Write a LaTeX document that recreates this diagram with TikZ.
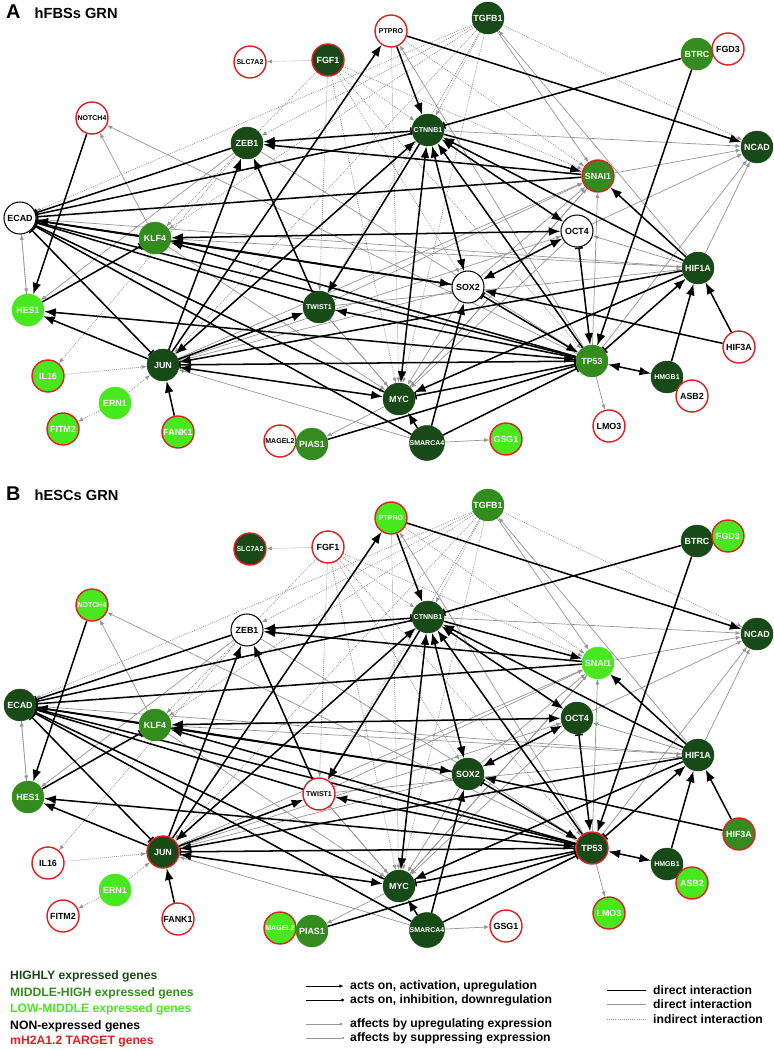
\documentclass[tikz,border=0pt]{standalone}
\usepackage{fontspec}
\setmainfont{Liberation Sans}
\usetikzlibrary{arrows.meta,positioning}
\definecolor{grnhigh}{RGB}{24,74,24}
\definecolor{grnmid}{RGB}{52,140,30}
\definecolor{grnlow}{RGB}{72,232,30}
\definecolor{tgtred}{RGB}{226,30,30}
\definecolor{edgegray}{RGB}{150,150,150}
\pgfdeclarelayer{edgelayer}
\pgfsetlayers{edgelayer,main}

\begin{document}
\begin{tikzpicture}[
  x=0.03cm,y=-0.03cm,
  gene/.style={circle,minimum size=0.96cm,inner sep=0pt,font=\bfseries\fontsize{7.6}{8}\selectfont},
  lbl/.style={},
  lbls/.style={font=\bfseries\fontsize{6}{7}\selectfont},
  hi/.style={gene,fill=grnhigh,draw=grnhigh,text=white},
  hit/.style={hi,draw=tgtred,line width=1.2pt},
  mid/.style={gene,fill=grnmid,draw=grnmid,text=white},
  midt/.style={mid,draw=tgtred,line width=1.2pt},
  low/.style={gene,fill=grnlow,draw=grnlow,text=white},
  lowt/.style={low,draw=tgtred,line width=1.2pt},
  non/.style={gene,fill=white,draw=black,line width=0.9pt,text=black},
  nont/.style={non,draw=tgtred,line width=1.2pt},
  act/.style={draw=black,line width=1.3pt,-{Latex[length=10pt,width=7.5pt]}},
  dbl/.style={draw=black,line width=1.3pt,{Latex[length=10pt,width=7.5pt]}-{Latex[length=10pt,width=7.5pt]}},
  inh/.style={draw=black,line width=1.3pt,-{Bar[width=6.5pt]}},
  barbar/.style={draw=black,line width=1.3pt,{Bar[width=6.5pt]}-{Bar[width=6.5pt]}},
  baract/.style={draw=black,line width=1.3pt,{Bar[width=6.5pt]}-{Latex[length=10pt,width=7.5pt]}},
  up/.style={draw=edgegray,line width=0.6pt,-{Latex[length=4.5pt,width=3.5pt]}},
  sup/.style={draw=edgegray,line width=0.6pt,-{Bar[width=4pt]}},
  ind/.style={draw=edgegray,line width=0.7pt,densely dotted,-{Latex[length=4.5pt,width=3.5pt]}},
  ttl/.style={font=\bfseries\fontsize{17}{17}\selectfont,anchor=base west},
  ttltxt/.style={font=\bfseries\fontsize{12.5}{14}\selectfont},
  legtxt/.style={anchor=west,inner sep=0pt,font=\bfseries\fontsize{10.4}{12}\selectfont},
  legact/.style={draw=black,line width=0.8pt,-{Latex[length=4pt,width=3pt]}},
  leginh/.style={draw=black,line width=0.8pt,-{Circle[length=2.5pt]}},
  legup/.style={draw=edgegray,line width=0.8pt,-{Latex[length=3.5pt,width=2.5pt]}},
  legsup/.style={draw=edgegray,line width=0.8pt,-{Bar[width=2.5pt]}},
  legdir/.style={draw=black,line width=0.8pt},
  legdirg/.style={draw=edgegray,line width=0.8pt},
  legind/.style={draw=edgegray,line width=0.8pt,densely dotted},
]
\useasboundingbox (0,0) rectangle (773,1050);

% titles
\node[ttl] (atitle) at (2,18) {A};
\node[ttltxt,base right=5pt of atitle] (atitletxt) {hFBSs GRN};
\node[ttl] (btitle) at (2,500) {B};
\node[ttltxt,base right=5pt of btitle] (btitletxt) {hESCs GRN};

% panel A: hFBSs
\foreach \n/\x/\y/\s/\f in {
  PTPRO/391/31/nont/lbls, TGFB1/488/18/hi/lbl, BTRC/697/54/mid/lbl, FGD3/728/49/nont/lbl,
  SLC7A2/250/62/nont/lbls, FGF1/328/60/hit/lbl, NOTCH4/92/118/nont/lbls, ZEB1/247/143/hi/lbl,
  CTNNB1/428/130/hi/lbls, NCAD/757/147/hi/lbl, SNAI1/598/176/midt/lbl, ECAD/20/218/non/lbl,
  KLF4/155/238/mid/lbl, OCT4/577/231/non/lbl, HIF1A/698/268/hi/lbl, SOX2/468/287/non/lbl,
  HES1/28/310/low/lbl, TWIST1/319/307/hi/lbls, JUN/163/365/hi/lbl, TP53/592/361/mid/lbl,
  HIF3A/739/347/nont/lbl, HMGB1/667/377/hi/lbls, ASB2/692/396/nont/lbl, IL16/48/376/lowt/lbl,
  ERN1/115/403/low/lbl, FITM2/63/429/lowt/lbl, FANK1/178/432/lowt/lbl, MYC/399/399/hi/lbl,
  LMO3/609/426/nont/lbl, SMARCA4/427/443/hi/lbls, GSG1/506/439/lowt/lbl, MAGEL2/280/441/nont/lbls,
  PIAS1/312/444/mid/lbl}
  \node[\s,\f] (a-\n) at (\x,\y) {\n};

% panel B: hESCs
\begin{scope}[shift={(0,487)}]
\foreach \n/\x/\y/\s/\f in {
  PTPRO/391/31/lowt/lbls, TGFB1/488/18/mid/lbl, BTRC/697/54/hi/lbl, FGD3/728/49/lowt/lbl,
  SLC7A2/250/62/hit/lbls, FGF1/328/60/nont/lbl, NOTCH4/92/118/lowt/lbls, ZEB1/247/143/non/lbl,
  CTNNB1/428/130/hi/lbls, NCAD/757/147/hi/lbl, SNAI1/598/176/low/lbl, ECAD/20/218/hi/lbl,
  KLF4/155/238/mid/lbl, OCT4/577/231/hi/lbl, HIF1A/698/268/hi/lbl, SOX2/468/287/hi/lbl,
  HES1/28/310/mid/lbl, TWIST1/319/307/nont/lbls, JUN/163/365/hit/lbl, TP53/592/361/hit/lbl,
  HIF3A/739/347/midt/lbl, HMGB1/667/377/hi/lbls, ASB2/692/396/lowt/lbl, IL16/48/376/nont/lbl,
  ERN1/115/403/low/lbl, FITM2/63/429/nont/lbl, FANK1/178/432/nont/lbl, MYC/399/399/hi/lbl,
  LMO3/609/426/lowt/lbl, SMARCA4/427/443/hi/lbls, GSG1/506/439/nont/lbl, MAGEL2/280/441/lowt/lbls,
  PIAS1/312/444/mid/lbl}
  \node[\s,\f] (b-\n) at (\x,\y) {\n};
\end{scope}

% interactions, same network in both panels
\begin{pgfonlayer}{edgelayer}
\foreach \p in {a,b}{
  % indirect
  \foreach \u/\v in {FGF1/SLC7A2, ERN1/JUN, IL16/JUN, ERN1/FITM2, ZEB1/IL16, FGF1/CTNNB1,
    FGF1/MYC, FGF1/TWIST1, FGF1/SNAI1, FGF1/TP53, FGF1/KLF4, FGF1/SOX2, TGFB1/ECAD,
    TGFB1/CTNNB1, TGFB1/ZEB1, TGFB1/NCAD, TGFB1/MYC, TGFB1/TWIST1, TGFB1/JUN, TGFB1/KLF4,
    PTPRO/MYC, PTPRO/SNAI1, ECAD/HES1}
    \draw[ind] (\p-\u) -- (\p-\v);
  % affects expression
  \foreach \u/\v in {TGFB1/SNAI1, HIF1A/TGFB1, TP53/PTPRO, CTNNB1/NCAD, SNAI1/NCAD, OCT4/NCAD,
    HIF1A/NCAD, TP53/NCAD, TWIST1/SNAI1, MYC/SNAI1, TP53/SNAI1, HIF1A/OCT4, JUN/OCT4,
    KLF4/NOTCH4, TP53/NOTCH4, OCT4/MYC, SNAI1/MYC, TWIST1/MYC, ECAD/MYC, SOX2/MYC, KLF4/MYC,
    MYC/PIAS1, SMARCA4/GSG1, TP53/LMO3, SMARCA4/JUN, TWIST1/HIF1A, TWIST1/TP53, ZEB1/TP53,
    HES1/ECAD, ECAD/SOX2, JUN/SNAI1, SOX2/SNAI1, ZEB1/HES1, KLF4/HIF1A}
    \draw[up] (\p-\u) -- (\p-\v);
  \foreach \u/\v in {MYC/TWIST1, HIF1A/ECAD, SOX2/JUN}
    \draw[sup] (\p-\u) -- (\p-\v);
  % acts on
  \foreach \u/\v in {PTPRO/CTNNB1, PTPRO/NCAD, BTRC/TP53, JUN/PTPRO, NOTCH4/HES1, SNAI1/ZEB1,
    JUN/ZEB1, TWIST1/ZEB1, KLF4/ECAD, CTNNB1/SNAI1, HIF1A/SNAI1, CTNNB1/TWIST1, HIF1A/CTNNB1,
    TP53/CTNNB1, JUN/HES1, JUN/TWIST1, TP53/TWIST1, HIF1A/MYC, HIF1A/JUN, HMGB1/HIF1A,
    HIF3A/HIF1A, HIF3A/SOX2, SMARCA4/MYC, SMARCA4/SOX2, FANK1/JUN, TP53/KLF4}
    \draw[act] (\p-\u) -- (\p-\v);
  \foreach \u/\v in {KLF4/OCT4, CTNNB1/OCT4, OCT4/SOX2, TP53/HMGB1, JUN/MYC, HES1/TP53,
    CTNNB1/SOX2, CTNNB1/MYC, CTNNB1/JUN, KLF4/SOX2}
    \draw[dbl] (\p-\u) -- (\p-\v);
  \foreach \u/\v in {BTRC/CTNNB1, ZEB1/ECAD, SNAI1/ECAD, CTNNB1/ECAD, TWIST1/ECAD, SOX2/ECAD,
    SMARCA4/ECAD, TP53/ECAD, MYC/ECAD, SMARCA4/TP53, PIAS1/TP53, HES1/KLF4}
    \draw[inh] (\p-\u) -- (\p-\v);
  \foreach \u/\v in {ECAD/JUN, JUN/TP53, MYC/TP53}
    \draw[barbar] (\p-\u) -- (\p-\v);
  \foreach \u/\v in {CTNNB1/ZEB1, OCT4/TP53, SOX2/TP53, TP53/HIF1A}
    \draw[baract] (\p-\u) -- (\p-\v);
}
\end{pgfonlayer}

% legend: expression levels
\foreach \i/\y/\c/\t in {1/976/grnhigh/HIGHLY expressed genes, 2/993/grnmid/MIDDLE-HIGH expressed genes,
  3/1009/grnlow/LOW-MIDDLE expressed genes, 4/1026/black/NON-expressed genes,
  5/1042/tgtred/mH2A1.2 TARGET genes}
  \node[legtxt,text=\c] (key\i) at (10,\y) {\t};

% legend: edge types
\foreach \i/\y/\st/\t in {1/986/legact/{acts on, activation, upregulation},
  2/1000/leginh/{acts on, inhibition, downregulation},
  3/1024/legup/{affects by upregulating expression},
  4/1038/legsup/{affects by suppressing expression}}{
  \coordinate (ls\i) at (306,\y);
  \coordinate (le\i) at (344,\y);
  \draw[\st] (ls\i) -- (le\i);
  \node[legtxt] (lt\i) at (350,\y) {\t};
}
\foreach \i/\y/\st/\t in {1/990/legdir/direct interaction, 2/1004/legdirg/direct interaction,
  3/1019/legind/indirect interaction}{
  \coordinate (ms\i) at (607,\y);
  \coordinate (me\i) at (646,\y);
  \draw[\st] (ms\i) -- (me\i);
  \node[legtxt] (mt\i) at (653,\y) {\t};
}
\end{tikzpicture}
\end{document}
